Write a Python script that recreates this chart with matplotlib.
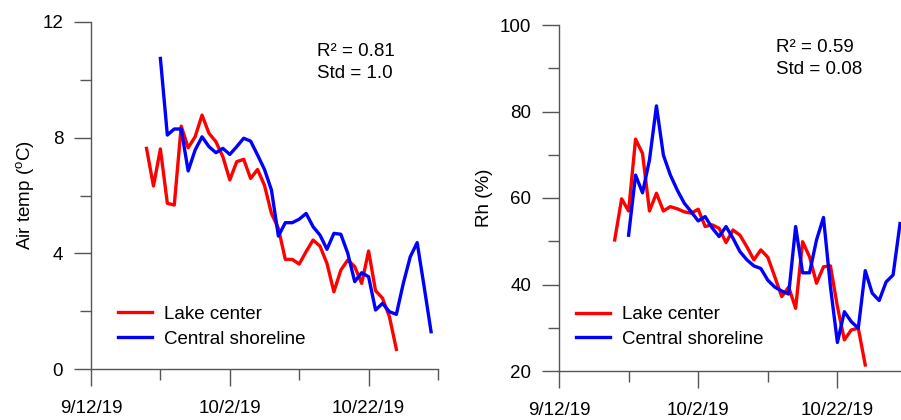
import matplotlib
matplotlib.use("Agg")
import matplotlib.pyplot as plt
import matplotlib.dates as mdates
import matplotlib.ticker as mticker
import pandas as pd

plt.rcParams['font.family'] = ['Liberation Sans', 'DejaVu Sans']
plt.rcParams['mathtext.fontset'] = 'custom'
plt.rcParams['mathtext.rm'] = 'Liberation Sans'

# daily series (lake center starts 9/20, central shoreline starts 9/22)
lake_start = '2019-09-20'
shore_start = '2019-09-22'

temp_lake = [7.63, 6.33, 7.61, 5.73, 5.67, 8.40, 7.65, 8.03, 8.78, 8.15,
             7.86, 7.34, 6.54, 7.17, 7.25, 6.59, 6.90, 6.35, 5.38, 4.86,
             3.79, 3.79, 3.63, 4.06, 4.46, 4.25, 3.65, 2.67, 3.42, 3.77,
             3.54, 2.96, 4.08, 2.71, 2.45, 1.81, 0.68]
temp_shore = [10.74, 8.09, 8.30, 8.30, 6.85, 7.57, 8.03, 7.69, 7.48, 7.63,
              7.42, 7.69, 7.98, 7.88, 7.40, 6.90, 6.19, 4.60, 5.06, 5.06,
              5.18, 5.38, 4.92, 4.63, 4.14, 4.69, 4.66, 4.00, 3.02, 3.33,
              3.19, 2.04, 2.27, 1.98, 1.89, 2.96, 3.88, 4.37, 2.85, 1.29]

rh_lake = [50.3, 59.8, 57.0, 73.6, 70.3, 57.0, 61.1, 57.0, 58.0, 57.5,
           56.8, 56.5, 57.4, 53.4, 53.8, 53.0, 49.7, 52.6, 51.4, 48.7,
           45.7, 48.0, 46.3, 41.8, 37.2, 39.4, 34.5, 49.9, 46.4, 40.3,
           44.1, 44.3, 34.9, 27.2, 29.5, 29.9, 21.4]
rh_shore = [51.4, 65.3, 61.2, 68.8, 81.3, 69.9, 65.3, 61.8, 58.8, 56.8,
            54.7, 55.7, 53.1, 51.1, 53.4, 50.7, 47.6, 45.7, 44.3, 43.7,
            41.0, 39.4, 38.5, 37.8, 53.4, 42.7, 42.7, 50.3, 55.5, 39.5,
            26.6, 33.7, 31.4, 29.9, 43.2, 38.0, 36.3, 40.6, 42.2, 54.1]

major_dates = pd.to_datetime(['2019-09-12', '2019-10-02', '2019-10-22'])
minor_dates = pd.to_datetime(['2019-09-22', '2019-10-12', '2019-11-01'])
x_min, x_max = pd.Timestamp('2019-09-12'), pd.Timestamp('2019-11-01')

fs = 13.5
spine_c = '#555555'

fig = plt.figure(figsize=(9.01, 4.2), dpi=100)
ax1 = fig.add_axes([91 / 901, 51 / 420, 347 / 901, 347 / 420])
ax2 = fig.add_axes([559 / 901, 49 / 420, 348 / 901, 346 / 420])

panels = [
    (ax1, temp_lake, temp_shore, (0, 12), [0, 4, 8, 12], [2, 6, 10],
     'Air temp ($^{\\mathrm{o}}$C)', ['R² = 0.81', 'Std = 1.0'], 0.651, (0.914, 0.853), 3.5),
    (ax2, rh_lake, rh_shore, (20, 100), [20, 40, 60, 80, 100], [30, 50, 70, 90],
     'Rh (%)', ['R² = 0.59', 'Std = 0.08'], 0.624, (0.936, 0.870), 5),
]

for ax, lake, shore, ylim, yt, ytm, ylab, notes, nx, ny, lpad in panels:
    d_lake = pd.date_range(lake_start, periods=len(lake), freq='D')
    d_shore = pd.date_range(shore_start, periods=len(shore), freq='D')
    ax.plot(d_lake, lake, color='#ff0000', lw=2.4, label='Lake center')
    ax.plot(d_shore, shore, color='#0000ff', lw=2.4, label='Central shoreline')

    ax.set_xlim(x_min, x_max)
    ax.set_ylim(*ylim)
    ax.set_yticks(yt)
    ax.set_yticks(ytm, minor=True)
    ax.xaxis.set_major_locator(mticker.FixedLocator(mdates.date2num(major_dates)))
    ax.xaxis.set_minor_locator(mticker.FixedLocator(mdates.date2num(minor_dates)))
    ax.set_xticklabels([f'{d.month}/{d.day}/{d.year % 100}' for d in major_dates])

    for s in ['top', 'right']:
        ax.spines[s].set_visible(False)
    for s in ['left', 'bottom']:
        ax.spines[s].set_color(spine_c)
        ax.spines[s].set_linewidth(1.0)
    ax.tick_params(which='major', length=12, width=1, color=spine_c,
                   labelsize=fs, direction='out')
    ax.tick_params(axis='y', which='major', pad=8)
    ax.tick_params(axis='x', which='major', pad=10)
    ax.tick_params(which='minor', length=8, width=1, color=spine_c, direction='out')

    ax.set_ylabel(ylab, fontsize=fs, labelpad=lpad)

    ax.text(nx, ny[0], notes[0], transform=ax.transAxes, fontsize=fs, va='center')
    ax.text(nx, ny[1], notes[1], transform=ax.transAxes, fontsize=fs, va='center')

ax1.legend(loc='upper left', bbox_to_anchor=(0.078, 0.182), frameon=False,
           fontsize=fs, handlelength=1.8, handletextpad=0.65, labelspacing=0.4,
           borderpad=0, borderaxespad=0)
ax2.legend(loc='upper left', bbox_to_anchor=(0.049, 0.188), frameon=False,
           fontsize=fs, handlelength=1.8, handletextpad=0.65, labelspacing=0.4,
           borderpad=0, borderaxespad=0)

fig.savefig('out.png', dpi=100)
